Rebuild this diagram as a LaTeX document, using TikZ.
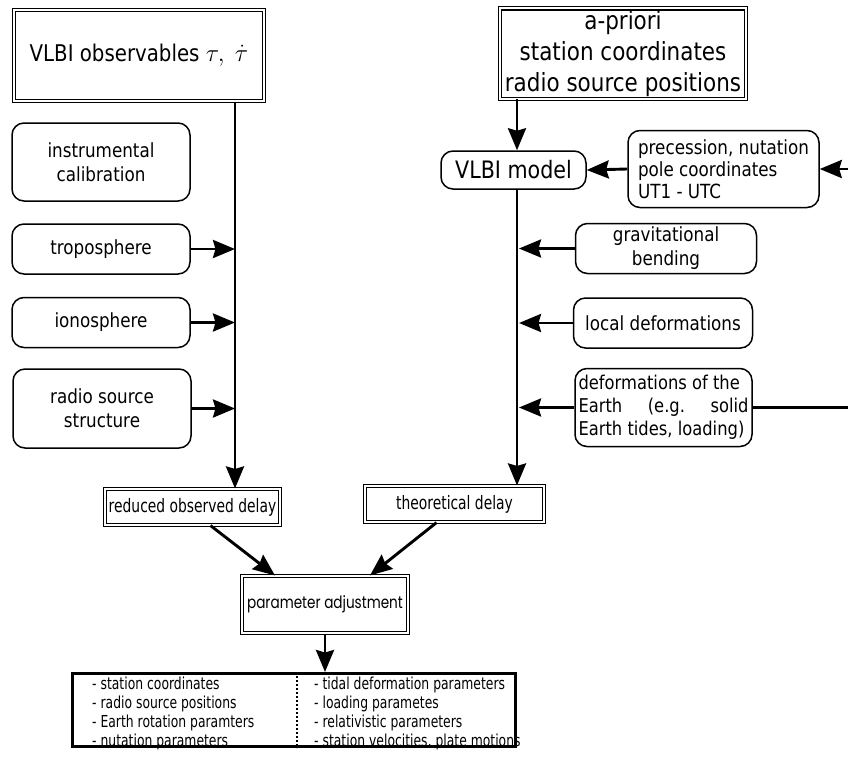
\documentclass[tikz,border=0pt]{standalone}
\usepackage{fontspec}
\setmainfont[FakeStretch=0.86]{DejaVu Sans}
\newfontfamily\narrowfont[FakeStretch=0.75]{DejaVu Sans}
\newfontfamily\geofont[FakeStretch=0.8]{Poppins}
\usetikzlibrary{arrows.meta,calc}
\begin{document}
\begin{tikzpicture}[x=1pt,y=-1pt,
  dbl/.style={draw, double, double distance=2pt, line width=1.1pt, inner sep=2pt, align=center},
  rbox/.style={draw, rounded corners=12pt, line width=1.5pt, align=center, inner sep=2pt},
  arr/.style={line width=2.9pt, -{Stealth[length=22pt,width=18pt,inset=2.5pt]}},
  ln/.style={line width=2.9pt},
  fb/.style={font=\fontsize{19.5}{24}\selectfont},
  fc/.style={font=\narrowfont\fontsize{16.5}{19}\selectfont}]
\useasboundingbox (0,0) rectangle (848,769);
\coordinate (lx) at (235,0);
\coordinate (rx) at (517,0);
\coordinate (edge) at (848,0);
\coordinate (dv) at (297,0);
% left column
\node[dbl, minimum width=250, minimum height=91, font=\fontsize{23}{28}\selectfont] (obs) at (139,55.5) {VLBI observables $\tau,\ \dot{\tau}$};
\node[rbox, minimum width=178, minimum height=78, fb] (instr) at (101,162) {instrumental\\calibration};
\node[rbox, minimum width=178, minimum height=50, fb] (tropo) at (101,249) {troposphere};
\node[rbox, minimum width=178, minimum height=50, fb] (iono) at (101,322.5) {ionosphere};
\node[rbox, minimum width=178, minimum height=79, fb] (radio) at (102,408.5) {radio source\\structure};
\node[dbl, minimum width=175, minimum height=36, font=\narrowfont\fontsize{18.5}{22}\selectfont] (red) at (192.5,507) {reduced observed delay};
% right column
\node[dbl, minimum width=246, minimum height=89, font=\fontsize{25}{31}\selectfont] (apri) at (623,53.5) {a-priori\\station coordinates\\radio source positions};
\node[rbox, minimum width=145, minimum height=38, font=\fontsize{24}{26}\selectfont] (model) at (513.5,170) {VLBI model};
\node[rbox, minimum width=191, minimum height=77, font=\fontsize{19.5}{22}\selectfont, align=left] (prec) at (723.5,169) {precession, nutation\\pole coordinates\\UT1 - UTC};
\node[rbox, minimum width=181, minimum height=50, fb] (grav) at (666,248.5) {gravitational\\bending};
\node[rbox, minimum width=179, minimum height=50, fb] (local) at (663,323) {local deformations};
\node[rbox, minimum width=177, minimum height=78, fb, inner sep=1pt] (deform) at (663.5,407.5) {\parbox{170pt}{\fontsize{19}{23}\selectfont deformations~of~the\\ Earth\hfill(e.g.\hfill solid\\ Earth tides, loading)}};
\node[dbl, minimum width=179, minimum height=36, font=\narrowfont\fontsize{18.5}{22}\selectfont] (theo) at (454.5,504) {theoretical delay};
% bottom
\node[dbl, minimum width=166, minimum height=57, font=\geofont\fontsize{17}{22}\selectfont] (param) at (325,604.5) {parameter adjustment};
\node[draw, line width=3pt, minimum width=443, minimum height=73] (res) at (294,710) {};
\node[anchor=north west, align=left, fc, inner sep=0pt] (resl) at (92,677) {- station coordinates\\- radio source positions\\- Earth rotation paramters\\- nutation parameters};
\node[anchor=north west, align=left, fc, inner sep=0pt] (resr) at (314,677) {- tidal deformation parameters\\- loading parametes\\- relativistic parameters\\- station velocities, plate motions};
\draw[line width=2pt, dotted] (res.north -| dv) -- (res.south -| dv);
% connectors left
\draw[arr] (obs.south -| lx) -- (red.north -| lx);
\draw[arr] (tropo.east) -- (tropo.east -| lx);
\draw[arr] (iono.east) -- (iono.east -| lx);
\draw[arr] (radio.east) -- (radio.east -| lx);
% connectors right
\draw[arr] (apri.south -| rx) -- (model.north -| rx);
\draw[arr] (model.south -| rx) -- (theo.north -| rx);
\draw[arr] (prec.west) -- (model.east);
\draw[arr] (prec.east -| edge) -- (prec.east);
\draw[arr] (grav.west) -- ($(grav.west -| rx)+(2,0)$);
\draw[arr] (local.west) -- ($(local.west -| rx)+(2,0)$);
\draw[arr] (deform.west) -- ($(deform.west -| rx)+(2,0)$);
\draw[ln] (deform.east) -- (deform.east -| edge);
% to adjustment
\draw[arr] ($(red.south)+(18,0)$) -- ($(param.north)+(-50,0)$);
\draw[arr] ($(theo.south)+(-18,0)$) -- ($(param.north)+(45,0)$);
\draw[arr] (param.south) -- (param.south |- res.north);
\end{tikzpicture}
\end{document}
